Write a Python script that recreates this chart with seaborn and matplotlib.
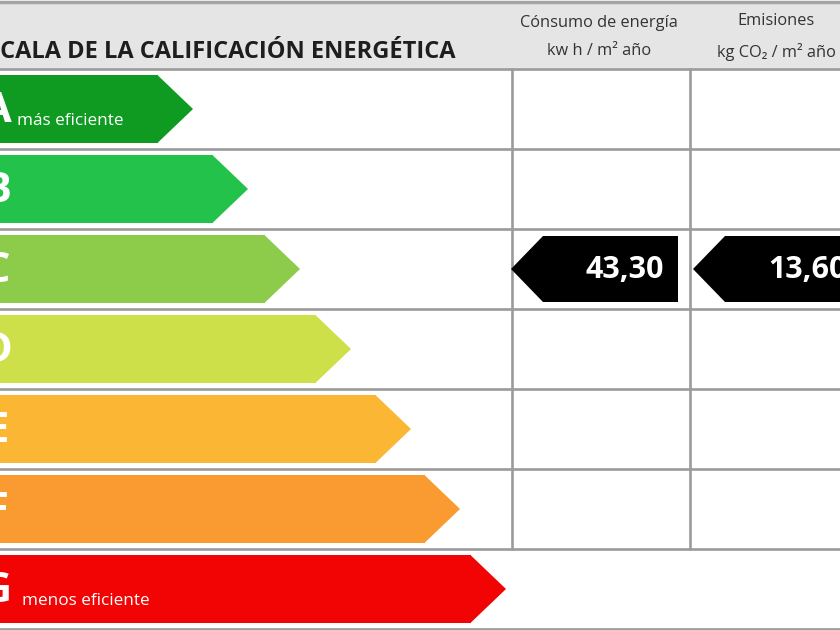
import matplotlib
matplotlib.use("Agg")
import matplotlib.pyplot as plt
from matplotlib.patches import Polygon, Rectangle
import seaborn as sns
import pandas as pd

# ── datos de la etiqueta ─────────────────────────────────────
letters = ["A", "B", "C", "D", "E", "F", "G"]
body_len = [158, 213, 265, 316, 376, 425, 471]
colors = ["#0f9b22", "#22c24b", "#8dcb4a", "#cde04a", "#fbb634", "#f99b31", "#f30404"]
notes = {"A": "más eficiente", "G": "menos eficiente"}
title = "ESCALA DE LA CALIFICACIÓN ENERGÉTICA"
col_titles = ["Cónsumo de energía\nkw h / m² año", "Emisiones\nkg CO₂ / m² año"]
rating = "C"
energy_value = "43,30"
emission_value = "13,60"

df = pd.DataFrame({"letra": letters, "largo": body_len})

# ── figura ───────────────────────────────────────────────────
sns.set_theme(style="white")
plt.rcParams["font.family"] = ["Open Sans", "DejaVu Sans"]

fig = plt.figure(figsize=(8.4, 6.3), dpi=100)
ax = fig.add_axes([0, 0, 1, 1])


def py(y):
    # pixel vertical -> unidad de fila (fila i centrada en 109 + 80 i)
    return (y - 109) / 80.0


grid_c = "#9b9b9b"
bar_h = 0.86
tip = 35

# cabecera gris
ax.add_patch(Rectangle((0, py(3)), 840, py(69) - py(3), color="#e5e5e5", zorder=0))
ax.axhline(py(1.5), color="#a5a5a5", lw=2.5, zorder=1)

# flechas de colores
sns.barplot(data=df, x="largo", y="letra", hue="letra", palette=colors,
            orient="h", width=bar_h, saturation=1, legend=False, ax=ax,
            linewidth=0, edgecolor="none", zorder=3)
for i, (L, c) in enumerate(zip(body_len, colors)):
    ax.add_patch(Polygon([(L - 1, i - bar_h / 2), (L + tip, i), (L - 1, i + bar_h / 2)],
                         closed=True, color=c, lw=0, zorder=3))
    ax.text(-3, i + 0.03, letters[i], color="white", fontsize=30, fontweight="bold",
            ha="center", va="center", zorder=4)
    if letters[i] in notes:
        ax.text(17 if i == 0 else 22, i + 0.2, notes[letters[i]], color="white",
                fontsize=12.3, ha="left", va="baseline", zorder=4)

# rejilla
for i in range(-1, len(letters)):
    ax.axhline(i + 0.5, color=grid_c, lw=1.9, zorder=2)
for x in [512, 690]:
    ax.plot([x, x], [-0.5, len(letters) - 1.5], color=grid_c, lw=1.9, zorder=2)

# textos de cabecera
ax.text(455, py(58), title, fontsize=17, fontweight="bold", color="#1e1e1e",
        ha="right", va="baseline")
for xc, t in zip([599, 776], col_titles):
    ax.text(xc, py(37), t, fontsize=11.8, color="#333333", ha="center", va="center",
            linespacing=1.95)

# indicadores negros
r = letters.index(rating)
h2 = 0.825 / 2
for x_tip, x_end, val, x_txt, ha in [(511, 678, energy_value, 664, "right"),
                                     (693, 860, emission_value, 768, "left")]:
    ax.add_patch(Polygon([(x_end, r - h2), (x_tip + 32, r - h2), (x_tip, r),
                          (x_tip + 32, r + h2), (x_end, r + h2)],
                         closed=True, color="black", lw=0, zorder=3))
    ax.text(x_txt, r + 0.01, val, color="white", fontsize=22, fontweight="bold",
            ha=ha, va="center", zorder=4)

ax.set_xlim(0, 840)
ax.set_ylim(py(630), py(0))
ax.axis("off")

fig.savefig("out.png", dpi=100)
